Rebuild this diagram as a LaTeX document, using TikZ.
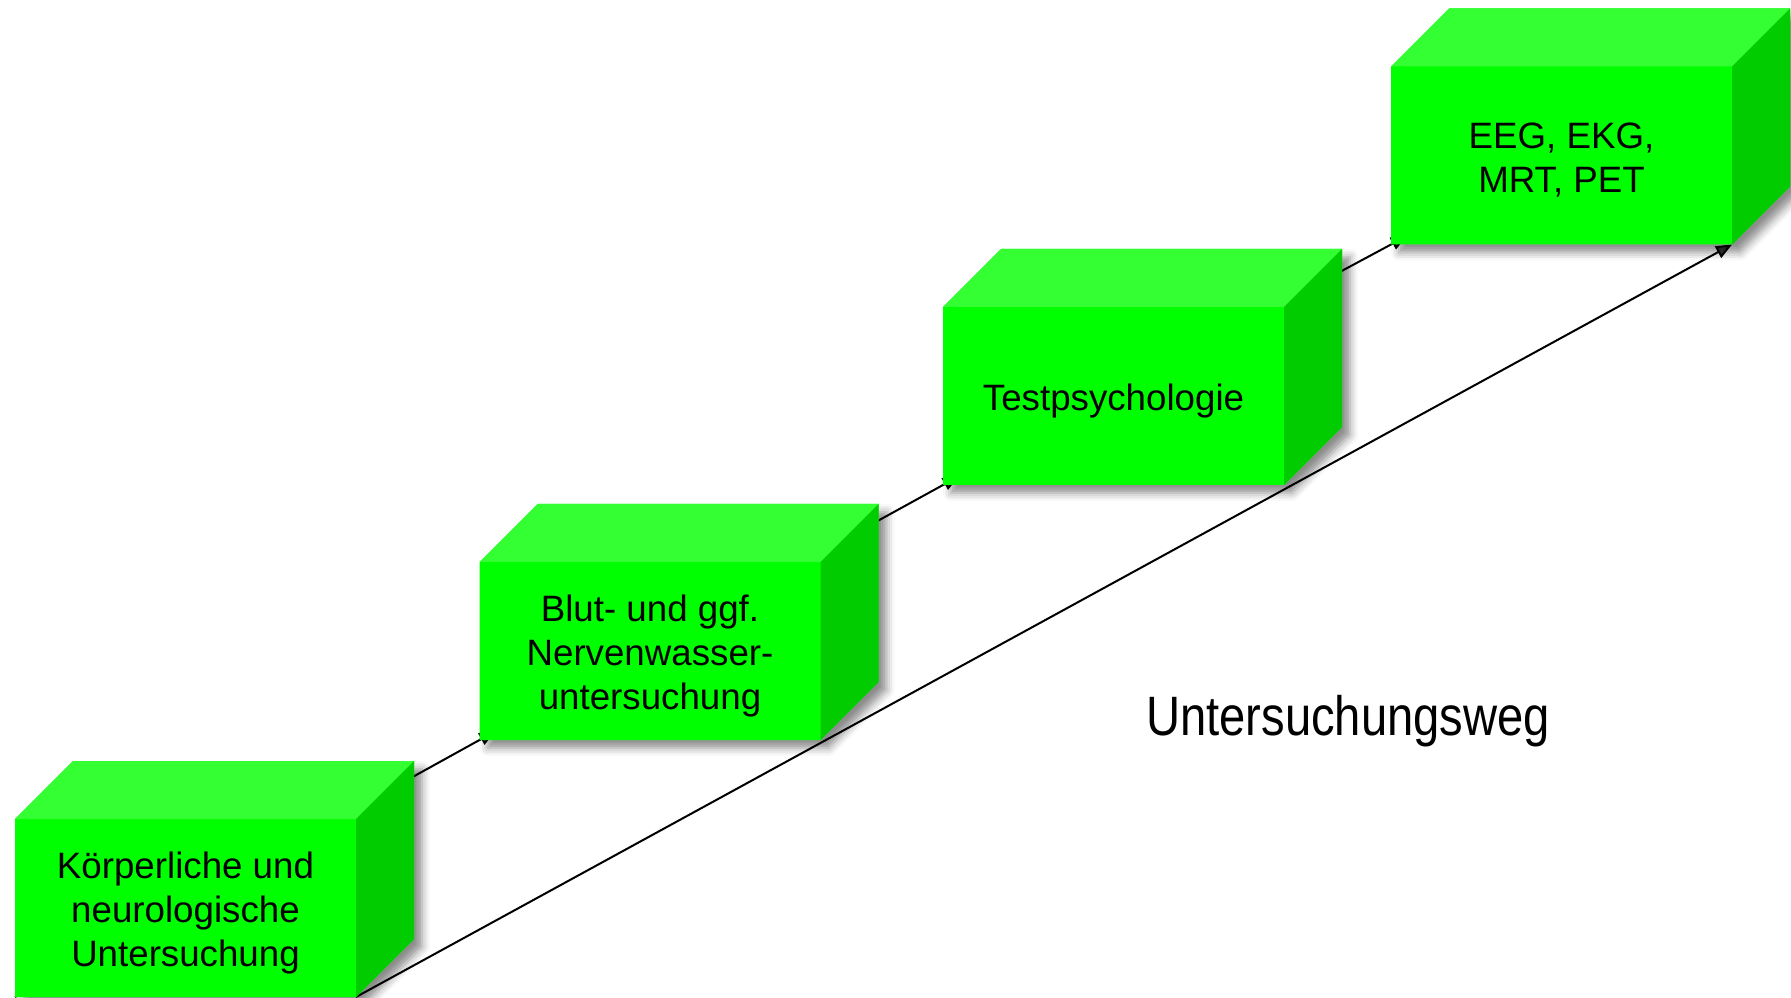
\documentclass[tikz,border=0pt]{standalone}
\usepackage{fontspec}
\setmainfont{Liberation Sans}
\newfontfamily\wegfont[FakeStretch=0.85]{Liberation Sans}
\usetikzlibrary{shadows.blur,backgrounds,arrows.meta}
\definecolor{frontc}{HTML}{00FF00}
\definecolor{topc}{HTML}{33FF33}
\definecolor{sidec}{HTML}{00CC00}
\tikzset{
  front/.style={rectangle, fill=frontc, minimum width=341pt, minimum height=178pt,
    inner sep=0pt, outer sep=0pt},
  boxtext/.style={inner sep=0pt, align=center, font=\fontsize{36.7}{44}\selectfont},
  cubeshadow/.style={fill=frontc, blur shadow={shadow xshift=8pt, shadow yshift=-8pt,
    shadow blur radius=8pt, shadow opacity=45}},
  conn/.style={line width=2pt, -{Triangle[length=16pt,width=13pt]}},
}
\newcommand\mycube[4]{%
  \fill[cubeshadow] ({#2-170.5},{#3-89}) -- ++(341,0) -- ++(58,58) -- ++(0,178)
     -- ++(-341,0) -- ++(-58,-58) -- cycle;
  \node[front] (#1) at (#2,#3) {};
  \fill[topc] (#1.north west) -- (#1.north east) -- ++(58,58)
     -- ([shift={(58,58)}]#1.north west) -- cycle;
  \fill[sidec] (#1.north east) -- (#1.south east) -- ++(58,58)
     -- ([shift={(58,58)}]#1.north east) -- cycle;
  \node[boxtext] (#1t) at ([yshift=-5pt]#1.center) {#4};
}
\begin{document}
\begin{tikzpicture}[x=1pt,y=1pt]
\useasboundingbox (0,0) rectangle (1791,997);
\clip (0,0) rectangle (1791,997);
\mycube{b1}{185.5}{89}{Körperliche und\\neurologische\\Untersuchung}
\mycube{b2}{650}{346}{Blut- und ggf.\\Nervenwasser-\\untersuchung}
\mycube{b3}{1113.5}{601}{Testpsychologie}
\mycube{b4}{1561.5}{841.5}{EEG, EKG,\\MRT, PET}
\begin{scope}[on background layer]
  \draw[conn, shorten >=-18pt] (b1.south west) -- (b2.south west);
  \draw[conn, shorten >=-18pt] (b2.south west) -- (b3.south west);
  \draw[conn, shorten >=-18pt] (b3.south west) -- (b4.south west);
  \draw[conn] (b1.south east) -- (b4.south east);
\end{scope}
\node[anchor=base, font=\wegfont\fontsize{55.5}{60}\selectfont] (weg) at (1348,262) {Untersuchungsweg};
\end{tikzpicture}
\end{document}
